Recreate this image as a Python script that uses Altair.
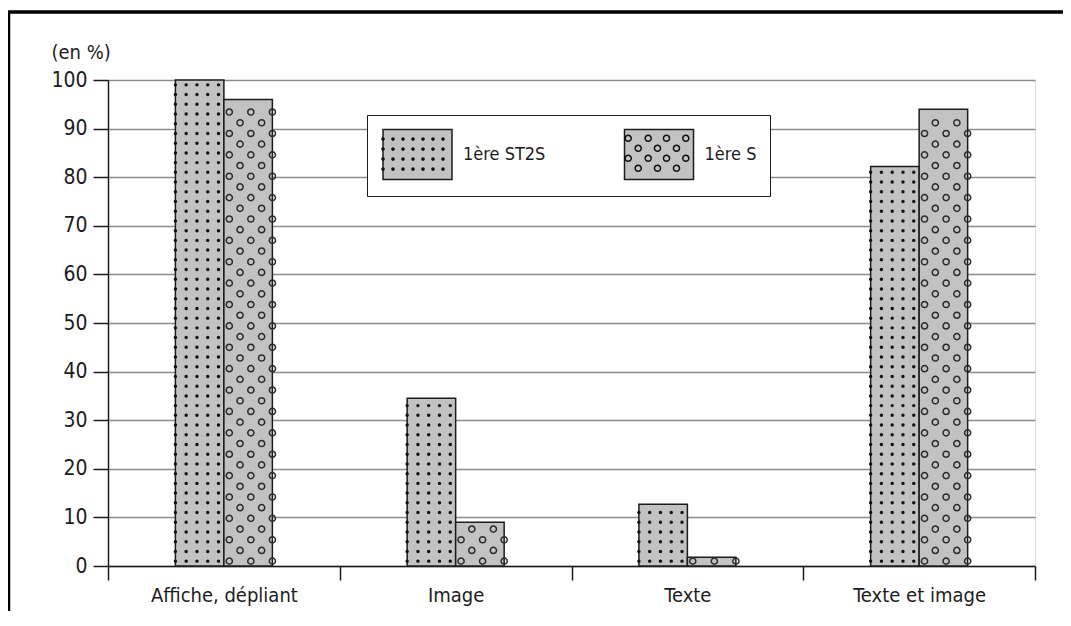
import altair as alt
import pandas as pd

# ---------------- data ----------------
categories = ["Affiche, dépliant", "Image", "Texte", "Texte et image"]
series_names = ["1ère ST2S", "1ère S"]
series_codes = ["ST2S", "S"]
values_st2s = [100.0, 34.5, 12.7, 82.2]
values_s = [96.0, 9.0, 1.8, 94.0]
y_ticks = [0, 10, 20, 30, 40, 50, 60, 70, 80, 90, 100]

FONT = "DejaVu Sans Condensed, sans-serif"
GRAY = "#c2c2c2"
INK = "#1c1c1c"
PAIR_RANGE = [67.4, 164.4]   # pixel span of the bar pair inside each category band

rows = []
for cat, v1, v2 in zip(categories, values_st2s, values_s):
    rows.append({"categorie": cat, "serie": series_names[0], "code": series_codes[0], "valeur": v1})
    rows.append({"categorie": cat, "serie": series_names[1], "code": series_codes[1], "valeur": v2})
bars_df = pd.DataFrame(rows)

# texture (hatching) drawn inside each bar, derived from the bar values
sub_cols = ["c%d" % i for i in range(10)]
dot_rows = []
for cat, v in zip(categories, values_st2s):
    k = 0
    while 1 + 2 * k + 0.35 <= v:
        for c in sub_cols[:5]:
            dot_rows.append({"categorie": cat, "col": c, "y": 1 + 2 * k})
        k += 1
dots_df = pd.DataFrame(dot_rows)

ring_rows = []
for cat, v in zip(categories, values_s):
    k = 0
    while 1.0 + 2.2 * k + 0.7 <= v:
        cols = ["c5", "c7", "c9"] if k % 2 == 0 else ["c6", "c8"]
        for c in cols:
            ring_rows.append({"categorie": cat, "col": c, "y": 1.0 + 2.2 * k})
        k += 1
rings_df = pd.DataFrame(ring_rows)


# ---------------- legend symbol paths ----------------
def circ(cx, cy, r, sweep):
    return (f"M{cx - r:.4f},{cy:.4f}A{r:.4f},{r:.4f} 0 1,{sweep} {cx + r:.4f},{cy:.4f}"
            f"A{r:.4f},{r:.4f} 0 1,{sweep} {cx - r:.4f},{cy:.4f}Z")

U = 25.0
rect_path = "M-1.38,-1H1.38V1H-1.38Z"
dot_path = "".join(circ(x / U, y / U, 1.8 / U, 0)
                   for y in [-16, -6, 4, 14]
                   for x in [-33.5, -23.5, -13.5, -3.5, 6.5, 16.5, 26.5])
ring_parts = []
for i, y in enumerate([-15.6, -5.6, 4.4, 14.4]):
    xs = [-27.8, -7.8, 10.5, 29.8] if i % 2 == 0 else [-17.8, 1.5, 20.5]
    for x in xs:
        ring_parts.append(circ(x / U, y / U, 3.8 / U, 0))
        ring_parts.append(circ(x / U, y / U, 2.3 / U, 1))
ring_path = "".join(ring_parts)

# ---------------- encodings ----------------
x_axis = alt.Axis(tickBand="extent", tickSize=14, tickWidth=1.5, tickColor=INK,
                  domainColor=INK, domainWidth=1.5, labelAngle=0, labelFontSize=20,
                  labelPadding=5, labelColor=INK, grid=False, title="")
y_axis = alt.Axis(values=y_ticks, grid=True, gridColor="#8c8c8c", gridWidth=1.5,
                  domainColor=INK, domainWidth=1.5, tickColor=INK, tickSize=15,
                  tickWidth=1.5, labelFontSize=21, labelPadding=6, labelColor=INK,
                  title="(en %)", titleAngle=0, titleAlign="left", titleBaseline="middle",
                  titleX=-57, titleY=-28, titleFontSize=20, titleFontWeight="normal",
                  titleColor=INK)


def X():
    return alt.X("categorie:N", sort=categories,
                 scale=alt.Scale(paddingInner=0, paddingOuter=0), axis=x_axis)


def Y(field):
    return alt.Y(field, type="quantitative",
                 scale=alt.Scale(domain=[0, 100], nice=False), axis=y_axis)


common_leg = dict(orient="none", legendX=259, legendY=35, direction="horizontal",
                  title=None, symbolSize=2500, symbolOffset=11, labelFontSize=18,
                  labelOffset=19.5, padding=13.5)
legend_fill = alt.Legend(symbolType=rect_path, symbolStrokeColor=INK, symbolStrokeWidth=1.5,
                         labelColor=INK, columnPadding=75.5, strokeColor=INK,
                         fillColor="white", **common_leg)
legend_shape = alt.Legend(symbolFillColor="#111111", symbolStrokeWidth=0,
                          labelExpr="''", labelColor="transparent", columnPadding=158.5,
                          **common_leg)

frame = alt.Chart(pd.DataFrame({"f": [0]})).mark_rect(
    filled=False, stroke="black", strokeWidth=3.5
).encode(x=alt.value(-99.5), x2=alt.value(1100), y=alt.value(-68), y2=alt.value(700))

bars = alt.Chart(bars_df).mark_bar(stroke=INK, strokeWidth=1.5).encode(
    x=X(),
    xOffset=alt.XOffset("code:N", scale=alt.Scale(domain=series_codes, paddingInner=0,
                                                  paddingOuter=0, range=PAIR_RANGE)),
    y=Y("valeur"),
    fill=alt.Fill("serie:N", scale=alt.Scale(domain=series_names, range=[GRAY, GRAY]),
                  legend=legend_fill),
)

dots = alt.Chart(dots_df).mark_point(filled=True, shape="circle", size=12,
                                     color="#111111", opacity=1).encode(
    x=X(),
    xOffset=alt.XOffset("col:N", scale=alt.Scale(domain=sub_cols, paddingInner=0,
                                                 paddingOuter=0, range=PAIR_RANGE)),
    y=Y("y"),
)

rings = alt.Chart(rings_df).mark_point(filled=False, shape="circle", size=38,
                                      color="#2a2a2a", strokeWidth=1.5, opacity=1).encode(
    x=X(),
    xOffset=alt.XOffset("col:N", scale=alt.Scale(domain=sub_cols, paddingInner=0,
                                                 paddingOuter=0, range=PAIR_RANGE)),
    y=Y("y"),
)

legend_pattern = alt.Chart(bars_df).mark_point(filled=True, color="#111111", opacity=0,
                                               size=1).encode(
    x=X(),
    y=Y("valeur"),
    shape=alt.Shape("code:N", scale=alt.Scale(domain=series_codes,
                                              range=[dot_path, ring_path]),
                    legend=legend_shape),
)

chart = alt.layer(bars, dots, rings, legend_pattern, frame).resolve_scale(
    xOffset="independent"
).properties(
    width=927, height=486,
    autosize=alt.AutoSizeParams(type="none"),
    padding={"left": 100, "top": 72, "right": 28, "bottom": 45},
    background="white",
).configure_view(stroke=None).configure(
    font=FONT
).configure_axis(labelFont=FONT, titleFont=FONT).configure_legend(labelFont=FONT)

chart.save("out.html", embed_options={"renderer": "svg", "actions": False})
